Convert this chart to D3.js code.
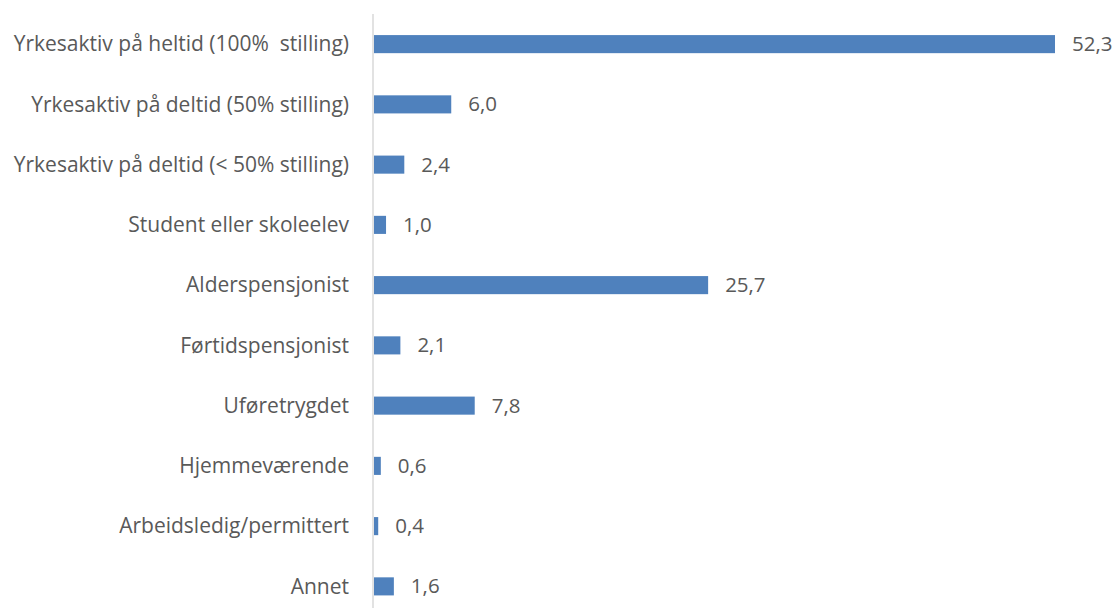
<!DOCTYPE html>
<html><head><meta charset="utf-8">
<script src="https://cdn.jsdelivr.net/npm/d3@7"></script>
<style>
body{margin:0;background:#fff;}
text{font-family:"Open Sans","Noto Sans",sans-serif;fill:#595959;white-space:pre;}
</style></head>
<body><svg id="c" width="1115" height="608"></svg>
<script>
const categories = ["Yrkesaktiv på heltid (100%  stilling)","Yrkesaktiv på deltid (50% stilling)","Yrkesaktiv på deltid (< 50% stilling)","Student eller skoleelev","Alderspensjonist","Førtidspensjonist","Uføretrygdet","Hjemmeværende","Arbeidsledig/permittert","Annet"];
const values = [52.3,6.0,2.4,1.0,25.7,2.1,7.8,0.6,0.4,1.6];

const svg = d3.select("#c");
const x0 = 373;
const x = d3.scaleLinear().domain([0,52.3]).range([x0,1055]);
const y = d3.scaleBand().domain(categories).range([14,616.5]).paddingInner(0.7).paddingOuter(0.35);
const fmt = v => d3.format(".1f")(v).replace(".",",");

svg.selectAll("rect.bar").data(values).join("rect").attr("class","bar")
  .attr("x",x(0)+1).attr("y",(d,i)=>y(categories[i]))
  .attr("width",d=>x(d)-x(0)-1).attr("height",y.bandwidth())
  .attr("fill","#4f81bd");

svg.append("line").attr("x1",x0).attr("x2",x0).attr("y1",14).attr("y2",608)
  .attr("stroke","#d9d9d9").attr("stroke-width",1.5);

svg.selectAll("text.lab").data(categories).join("text").attr("class","lab")
  .attr("x",349).attr("y",d=>y(d)+y.bandwidth()/2).attr("dy","0.34em")
  .attr("text-anchor","end").attr("font-size",21).text(d=>d);

svg.selectAll("text.val").data(values).join("text").attr("class","val")
  .attr("x",d=>x(d)+17).attr("y",(d,i)=>y(categories[i])+y.bandwidth()/2).attr("dy","0.34em")
  .attr("font-size",20.5).text(d=>fmt(d));
</script></body></html>
